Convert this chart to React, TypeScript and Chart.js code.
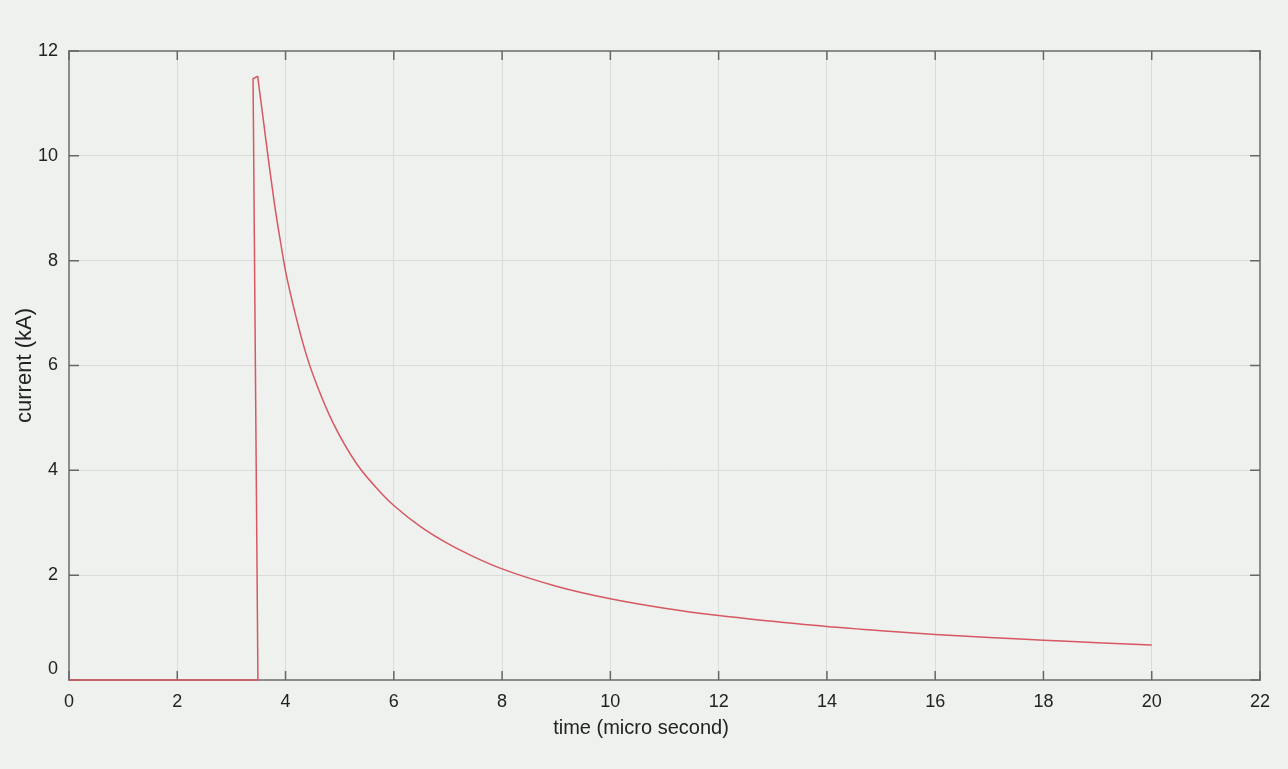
import { useEffect, useRef } from 'react';
import { Chart, registerables } from 'chart.js';

Chart.register(...registerables);

// Rise / spike segment (time in µs, current in kA)
const spikeTimes = [0, 3.49, 3.4, 3.485];
const spikeCurrent = [0, 0, 11.47, 11.52];

// Decay segment
const decayTimes = [3.485, 3.6, 3.7, 3.8, 3.9, 4.0, 4.2, 4.4, 4.6, 4.88, 5.31, 5.8, 6.0, 6.5, 7.0, 7.5, 8.0, 9.0, 10.0, 11.0, 12.0, 13.0, 14.0, 15.0, 16.0, 17.0, 18.0, 19.0, 20.0];
const decayCurrent = [11.52, 10.6, 9.8, 9.05, 8.4, 7.8, 6.9, 6.15, 5.57, 4.9, 4.13, 3.53, 3.33, 2.92, 2.6, 2.34, 2.12, 1.79, 1.55, 1.37, 1.23, 1.12, 1.02, 0.94, 0.87, 0.81, 0.76, 0.71, 0.67];

const xTickValues = [0, 2, 4, 6, 8, 10, 12, 14, 16, 18, 20, 22];
const yTickValues = [0, 2, 4, 6, 8, 10, 12];

const xTitle = 'time (micro second)';
const yTitle = 'current (kA)';

const FONT = '"Liberation Sans", Arial, Helvetica, sans-serif';
const FONT_SIZE = 18;
const TEXT = '#222222';
const RED = 'rgb(214, 88, 98)';
const BG = '#eef1ee';

const framePlugin = {
  id: 'frame',
  beforeDatasetsDraw(chart: any) {
    const { ctx, chartArea: a, scales } = chart;
    const x = scales.x;
    const y = scales.y;
    ctx.save();
    // frame
    ctx.strokeStyle = '#8c8c8c';
    ctx.lineWidth = 2;
    ctx.strokeRect(a.left, a.top, a.right - a.left, a.bottom - a.top);
    // inward ticks
    ctx.strokeStyle = '#666666';
    ctx.lineWidth = 1.5;
    ctx.beginPath();
    x.ticks.forEach((t: any) => {
      const px = x.getPixelForValue(t.value);
      ctx.moveTo(px, a.bottom);
      ctx.lineTo(px, a.bottom - 9);
      ctx.moveTo(px, a.top);
      ctx.lineTo(px, a.top + 9);
    });
    y.ticks.forEach((t: any) => {
      const py = y.getPixelForValue(t.value);
      ctx.moveTo(a.left, py);
      ctx.lineTo(a.left + 10, py);
      ctx.moveTo(a.right, py);
      ctx.lineTo(a.right - 10, py);
    });
    ctx.stroke();
    // zero label on y axis (raised, as in the reference)
    ctx.fillStyle = TEXT;
    ctx.font = `${FONT_SIZE}px ${FONT}`;
    ctx.textAlign = 'right';
    ctx.textBaseline = 'middle';
    ctx.fillText('0', a.left - 11, y.getPixelForValue(0) - 11);
    // x axis title
    ctx.font = `20px ${FONT}`;
    ctx.textAlign = 'center';
    ctx.fillText(xTitle, chart.width / 2 - 3, 728);
    ctx.restore();
  },
};

export default function App() {
  const ref = useRef<HTMLCanvasElement>(null);

  useEffect(() => {
    document.body.style.margin = '0';
    const canvas = ref.current!;
    const chart = new Chart(canvas, {
      type: 'scatter',
      data: {
        datasets: [
          {
            data: spikeTimes.map((t, i) => ({ x: t, y: spikeCurrent[i] })),
            showLine: true,
            borderColor: RED,
            borderWidth: 1.5,
            pointRadius: 0,
            tension: 0,
            clip: 4,
          } as any,
          {
            data: decayTimes.map((t, i) => ({ x: t, y: decayCurrent[i] })),
            showLine: true,
            borderColor: RED,
            borderWidth: 1.5,
            pointRadius: 0,
            cubicInterpolationMode: 'monotone',
            clip: 4,
          } as any,
        ],
      },
      options: {
        responsive: false,
        animation: false,
        layout: { padding: { left: 0, right: 28, top: 51, bottom: 0 } },
        plugins: {
          legend: { display: false },
          tooltip: { enabled: false },
        },
        scales: {
          x: {
            type: 'linear',
            min: 0,
            max: 22,
            afterBuildTicks: (s: any) => {
              s.ticks = xTickValues.map((v) => ({ value: v }));
            },
            ticks: {
              color: TEXT,
              font: { family: FONT, size: FONT_SIZE },
              padding: 11,
              maxRotation: 0,
            },
            grid: { color: '#d9dcd9', lineWidth: 1, drawTicks: false },
            border: { display: false },
            afterFit: (s: any) => {
              s.height = 89;
            },
          },
          y: {
            type: 'linear',
            min: 0,
            max: 12,
            afterBuildTicks: (s: any) => {
              s.ticks = yTickValues.map((v) => ({ value: v }));
            },
            ticks: {
              color: TEXT,
              font: { family: FONT, size: FONT_SIZE },
              padding: 11,
              callback: (v: any) => (Number(v) === 0 ? '' : String(v)),
            },
            title: {
              display: true,
              text: yTitle,
              color: TEXT,
              font: { family: FONT, size: 22 },
              padding: { top: 12, bottom: 0 },
            },
            grid: { color: '#d9dcd9', lineWidth: 1, drawTicks: false },
            border: { display: false },
            afterFit: (s: any) => {
              s.width = 69;
            },
          },
        },
      },
      plugins: [framePlugin],
    });
    return () => chart.destroy();
  }, []);

  return (
    <div style={{ position: 'absolute', left: 0, top: 0, width: 1288, height: 769, background: BG }}>
      <canvas ref={ref} width={1288} height={769} />
    </div>
  );
}
